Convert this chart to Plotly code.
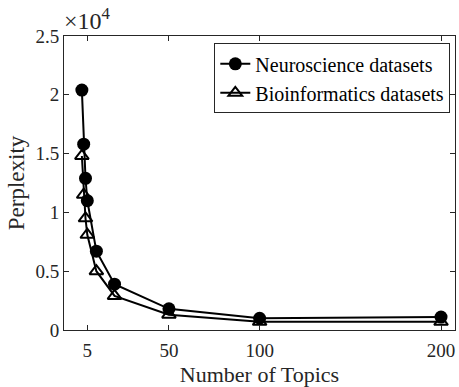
import plotly.graph_objects as go

topics = [2, 3, 4, 5, 10, 20, 50, 100, 200]
neuro = [20400, 15800, 12900, 11000, 6700, 3900, 1800, 1000, 1100]
bioinfo = [14800, 11500, 9500, 8100, 5000, 2900, 1300, 700, 700]
x_ticks = [5, 50, 100, 200]
y_ticks = [0, 5000, 10000, 15000, 20000, 25000]
y_tick_labels = ["0", "0.5", "1", "1.5", "2", "2.5"]

FONT = "Liberation Serif"
AX = "#262626"

fig = go.Figure()
fig.add_trace(go.Scatter(
    x=topics, y=neuro, mode="lines+markers", name="Neuroscience datasets",
    line=dict(color="black", width=2),
    marker=dict(symbol="circle", size=13, color="black"),
))
fig.add_trace(go.Scatter(
    x=topics, y=bioinfo, mode="lines+markers", name="Bioinformatics datasets",
    line=dict(color="black", width=2),
    marker=dict(symbol="triangle-up-open", size=12, color="black", line=dict(width=2)),
))

axis_common = dict(
    showline=True, linecolor=AX, linewidth=1, mirror="ticks",
    ticks="inside", ticklen=5, tickcolor=AX, tickwidth=1,
    showgrid=False, zeroline=False,
    tickfont=dict(family=FONT, size=19, color=AX),
)
fig.update_xaxes(
    range=[-7.85, 207.7], tickvals=x_ticks, ticklabelstandoff=3,
    title=dict(text="Number of Topics", font=dict(family=FONT, size=22, color=AX), standoff=6),
    **axis_common,
)
fig.update_yaxes(
    range=[0, 25000], tickvals=y_ticks, ticktext=y_tick_labels,
    title=dict(text="Perplexity", font=dict(family=FONT, size=23, color=AX), standoff=4),
    **axis_common,
)
fig.add_annotation(
    x=0, y=1, xref="paper", yref="paper", xanchor="left", yanchor="bottom",
    text="×10<sup>4</sup>", showarrow=False, yshift=0, xshift=-2,
    font=dict(family=FONT, size=24, color=AX),
)
fig.update_layout(
    width=459, height=387,
    margin=dict(l=64, r=4, t=36, b=57),
    paper_bgcolor="white", plot_bgcolor="white",
    showlegend=True,
    legend=dict(
        x=0.988, y=0.975, xanchor="right", yanchor="top",
        bordercolor=AX, borderwidth=1, bgcolor="white",
        font=dict(family=FONT, size=20, color="black"),
        itemwidth=30, tracegroupgap=0,
    ),
)
fig.write_html("out.html")
